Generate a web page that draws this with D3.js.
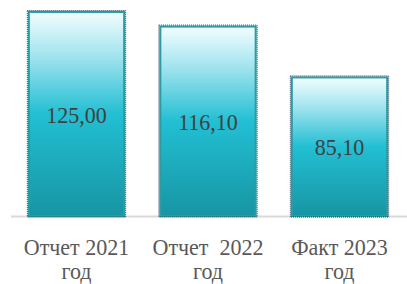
<!DOCTYPE html>
<html>
<head>
<meta charset="utf-8">
<script src="https://cdn.jsdelivr.net/npm/d3@7"></script>
<style>
  html, body { margin: 0; padding: 0; background: #fff; }
  svg { display: block; }
</style>
</head>
<body>
<div id="chart"></div>
<script>
const categories = ["Отчет 2021 год", "Отчет  2022 год", "Факт 2023 год"];
const categoryLines = [["Отчет 2021", "год"], ["Отчет  2022", "год"], ["Факт 2023", "год"]];
const values = [125.0, 116.1, 85.1];
const valueLabels = ["125,00", "116,10", "85,10"];

const width = 407;
const height = 284;
const baseline = 216;
const serif = "Liberation Serif, Times New Roman, serif";

const svg = d3.select("#chart")
  .append("svg")
  .attr("width", width)
  .attr("height", height);

const x = d3.scaleBand()
  .domain(categories)
  .range([10.75, 405.25])
  .paddingInner(0.26)
  .paddingOuter(0.13);

const y = d3.scaleLinear()
  .domain([0, 125])
  .range([baseline, 11]);

const defs = svg.append("defs");
const grad = defs.append("linearGradient")
  .attr("id", "barGrad")
  .attr("x1", 0).attr("y1", 0)
  .attr("x2", 0).attr("y2", 1);
grad.append("stop").attr("offset", "0%").attr("stop-color", "#f2feff");
grad.append("stop").attr("offset", "22%").attr("stop-color", "#9fe3ee");
grad.append("stop").attr("offset", "50%").attr("stop-color", "#22bfd3");
grad.append("stop").attr("offset", "100%").attr("stop-color", "#1795a3");

// axis line
svg.append("line")
  .attr("x1", 11).attr("x2", width)
  .attr("y1", baseline + 0.5).attr("y2", baseline + 0.5)
  .attr("stroke", "#d9d9d9")
  .attr("stroke-width", 2);

const bars = svg.append("g")
  .selectAll("g")
  .data(values)
  .join("g");

bars.append("rect")
  .attr("x", (d, i) => x(categories[i]) + 1)
  .attr("y", d => y(d) + 1)
  .attr("width", x.bandwidth() - 2)
  .attr("height", d => baseline - y(d) - 1)
  .attr("fill", "url(#barGrad)")
  .attr("stroke", "#2a9ca2")
  .attr("stroke-width", 2);

// dotted selection outline
bars.append("rect")
  .attr("x", (d, i) => x(categories[i]) - 0.5)
  .attr("y", d => y(d) - 0.5)
  .attr("width", x.bandwidth() + 1)
  .attr("height", d => baseline - y(d) + 1.5)
  .attr("fill", "none")
  .attr("stroke", "#1c3f5c")
  .attr("stroke-width", 1)
  .attr("stroke-dasharray", "1,1");

const textG = svg.append("g");

// labels are (re)built from scratch so a late font lookup gets fresh nodes
function drawText(size) {
  textG.selectAll("*").remove();

  textG.selectAll(".value")
    .data(values)
    .join("text")
    .attr("class", "value")
    .attr("x", (d, i) => x(categories[i]) + x.bandwidth() / 2)
    .attr("y", d => (y(d) + baseline) / 2 + 9)
    .attr("text-anchor", "middle")
    .attr("font-family", serif)
    .attr("fill", "#404040")
    .attr("font-size", size)
    .text((d, i) => valueLabels[i]);

  textG.selectAll(".cat")
    .data(categories)
    .join("text")
    .attr("class", "cat")
    .attr("x", d => x(d) + x.bandwidth() / 2)
    .attr("y", 255)
    .attr("text-anchor", "middle")
    .attr("font-family", serif)
    .attr("fill", "#595959")
    .attr("font-size", size)
    .style("white-space", "pre")
    .each(function (d, i) {
      const t = d3.select(this);
      categoryLines[i].forEach((line, j) => {
        t.append("tspan")
          .attr("x", x(d) + x.bandwidth() / 2)
          .attr("dy", j === 0 ? 0 : 24)
          .text(line);
      });
    });
}

drawText(22);

if (document.fonts && document.fonts.load) {
  document.fonts.load("22px 'Liberation Serif'").then(() => {
    requestAnimationFrame(() => drawText(22.01));
  });
}
setTimeout(() => drawText(22.02), 30);
</script>
</body>
</html>
